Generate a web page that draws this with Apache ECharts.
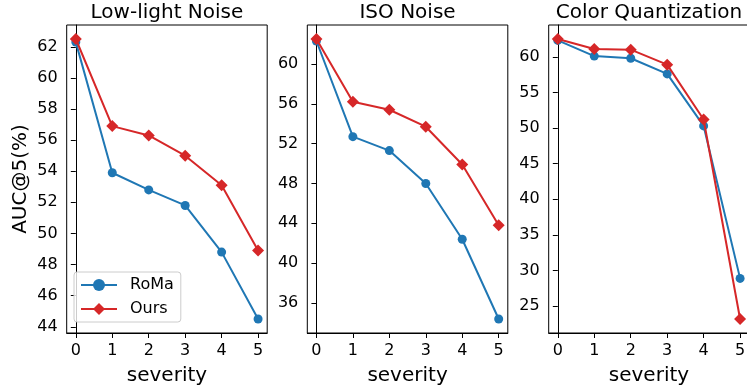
<!DOCTYPE html>
<html>
<head>
<meta charset="utf-8">
<script src="https://cdn.jsdelivr.net/npm/echarts@6/dist/echarts.min.js"></script>
<style>
  html, body { margin: 0; padding: 0; background: #fff; }
  #chart { width: 747px; height: 387px; }
</style>
</head>
<body>
<div id="chart"></div>
<script>
// Severity levels shared by all three panels
const severity = [0, 1, 2, 3, 4, 5];

// AUC@5 (%) per corruption type
const lowLightRoma = [62.3, 53.9, 52.8, 51.8, 48.8, 44.5];
const lowLightOurs = [62.5, 56.9, 56.3, 55.0, 53.1, 48.9];
const isoRoma = [62.3, 52.7, 51.3, 48.0, 42.4, 34.4];
const isoOurs = [62.5, 56.2, 55.4, 53.7, 49.9, 43.8];
const quantRoma = [62.3, 60.1, 59.8, 57.6, 50.3, 28.9];
const quantOurs = [62.5, 61.1, 61.0, 58.9, 51.2, 23.2];

// Y tick labels per panel
const lowLightTicks = [44, 46, 48, 50, 52, 54, 56, 58, 60, 62];
const isoTicks = [36, 40, 44, 48, 52, 56, 60];
const quantTicks = [25, 30, 35, 40, 45, 50, 55, 60];

const panelTitles = ['Low-light Noise', 'ISO Noise', 'Color Quantization'];
const seriesNames = ['RoMa', 'Ours'];

const BLUE = '#1f77b4';
const RED = '#d62728';
const FONT = 'DejaVu Sans';

const panels = [
  { roma: lowLightRoma, ours: lowLightOurs, ticks: lowLightTicks },
  { roma: isoRoma, ours: isoOurs, ticks: isoTicks },
  { roma: quantRoma, ours: quantOurs, ticks: quantTicks }
];

// Grid placement (the last panel runs slightly past the right edge)
const gridLeft = [66.7, 307.3, 548.7];
const gridTop = 25;
const gridWidth = 200.5;
const gridHeight = 308;

// Axis limits with a 5% margin around the data
function paddedRange(a, b) {
  const all = a.concat(b);
  const lo = Math.min(...all), hi = Math.max(...all);
  const m = (hi - lo) * 0.05;
  return [lo - m, hi + m];
}

const grids = [], xAxes = [], yAxes = [], series = [], titles = [];

panels.forEach((p, i) => {
  grids.push({
    left: gridLeft[i], top: gridTop, width: gridWidth, height: gridHeight,
    outerBoundsMode: 'none', containLabel: false,
    show: true, borderColor: '#000', borderWidth: 1, backgroundColor: '#fff'
  });
  xAxes.push({
    gridIndex: i, type: 'value', min: -0.25, max: 5.25,
    name: 'severity', nameLocation: 'middle', nameGap: 33,
    nameTextStyle: { fontFamily: FONT, fontSize: 20, color: '#000' },
    axisLine: { show: true, onZero: false, lineStyle: { color: '#000', width: 1 } },
    axisTick: { show: true, length: 5, lineStyle: { color: '#000' }, customValues: severity },
    axisLabel: { fontFamily: FONT, fontSize: 16, color: '#000', margin: 10, customValues: severity },
    splitLine: { show: false }
  });
  const r = paddedRange(p.roma, p.ours);
  yAxes.push({
    gridIndex: i, type: 'value', min: r[0], max: r[1],
    name: i === 0 ? 'AUC@5(%)' : '', nameLocation: 'middle', nameGap: 36,
    nameTextStyle: { fontFamily: FONT, fontSize: 20, color: '#000' },
    axisLine: { show: true, lineStyle: { color: '#000', width: 1 } },
    axisTick: { show: true, length: 5, lineStyle: { color: '#000' }, customValues: p.ticks },
    axisLabel: { fontFamily: FONT, fontSize: 16, color: '#000', margin: 9, customValues: p.ticks },
    splitLine: { show: false }
  });
  series.push({
    name: seriesNames[0], type: 'line', xAxisIndex: i, yAxisIndex: i,
    data: severity.map((s, k) => [s, p.roma[k]]),
    symbol: 'circle', symbolSize: 9,
    lineStyle: { color: BLUE, width: 2 }, itemStyle: { color: BLUE },
    z: 2, animation: false
  });
  series.push({
    name: seriesNames[1], type: 'line', xAxisIndex: i, yAxisIndex: i,
    data: severity.map((s, k) => [s, p.ours[k]]),
    symbol: 'diamond', symbolSize: 12,
    lineStyle: { color: RED, width: 2 }, itemStyle: { color: RED },
    z: 3, animation: false
  });
  titles.push({
    text: panelTitles[i],
    left: gridLeft[i] + gridWidth / 2, top: 2.5, textAlign: 'center', padding: 0,
    textStyle: { fontFamily: FONT, fontSize: 20, fontWeight: 'normal', color: '#000' }
  });
});

const chart = echarts.init(document.getElementById('chart'), null, { renderer: 'canvas' });
chart.setOption({
  animation: false,
  backgroundColor: '#fff',
  title: titles,
  grid: grids,
  xAxis: xAxes,
  yAxis: yAxes,
  legend: {
    data: seriesNames,
    orient: 'vertical',
    left: 74, top: 272,
    padding: [5, 7, 5, 6],
    itemGap: 8,
    itemWidth: 36, itemHeight: 15,
    backgroundColor: 'rgba(255,255,255,0.8)',
    borderColor: '#cccccc', borderWidth: 1, borderRadius: 3,
    textStyle: { fontFamily: FONT, fontSize: 16, color: '#000', padding: [0, 0, 0, 8] }
  },
  series: series
});
</script>
</body>
</html>
